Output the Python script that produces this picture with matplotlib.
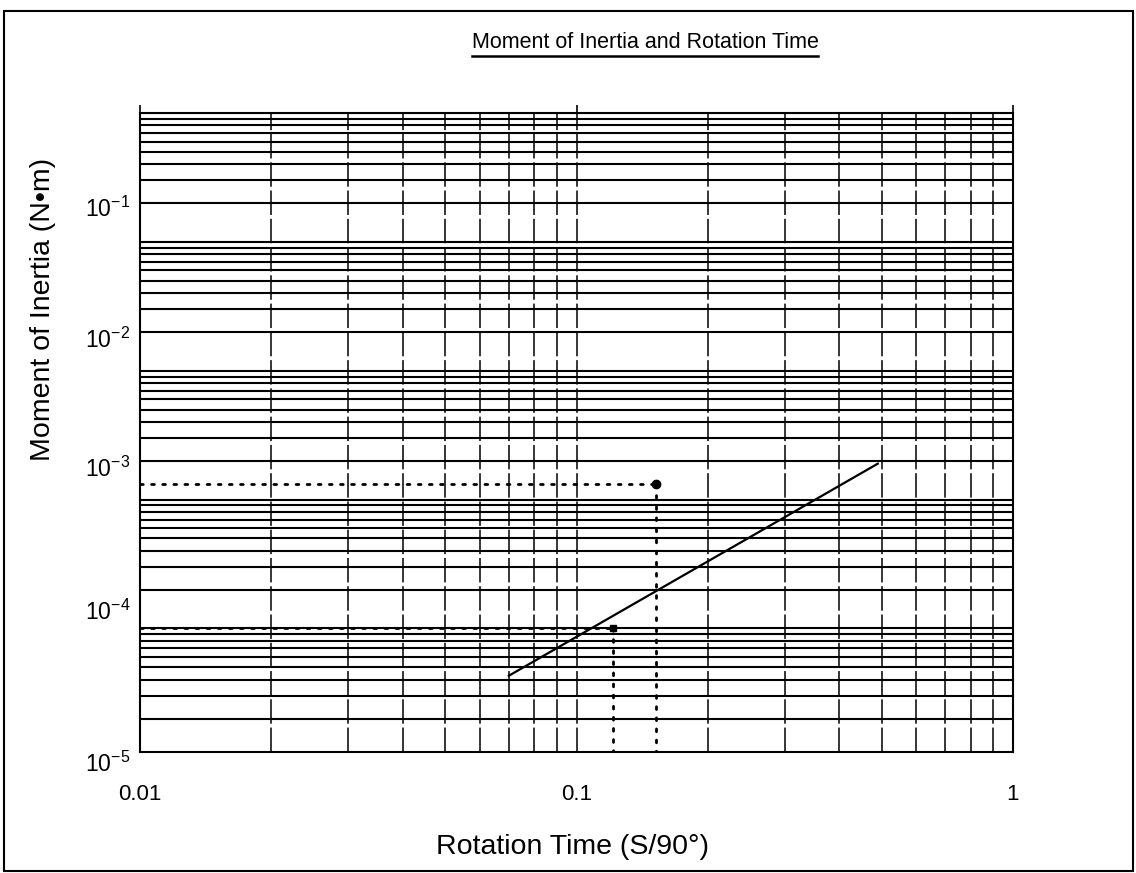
import numpy as np
import matplotlib
matplotlib.use('Agg')
import matplotlib.pyplot as plt
import matplotlib.transforms as mtransforms
from matplotlib import font_manager
from matplotlib.ticker import LogLocator, NullFormatter
from matplotlib.lines import Line2D
from matplotlib.patches import Rectangle

plt.rcParams['font.family'] = ['Liberation Sans', 'DejaVu Sans']
plt.rcParams['mathtext.fontset'] = 'custom'
plt.rcParams['mathtext.rm'] = 'Liberation Sans'
plt.rcParams['mathtext.it'] = 'Liberation Sans:italic'

# characteristic line (rotation time vs moment of inertia)
line_t = [0.07, 0.49]
line_j = [4.3e-5, 1.9e-3]

# the two worked examples drawn with dotted leaders
example_t = [0.152, 0.121]
example_j = [1.32e-3, 1.0e-4]
example_marker = ['o', 's']
example_size = [6, 4]

# axis labels (the printed y labels do not sit exactly on the grid decades)
x_ticks = [0.01, 0.1, 1]
x_ticklabels = ['0.01', '0.1', '1']
y_ticklabels = [r'$10^{-5}$', r'$10^{-4}$', r'$10^{-3}$', r'$10^{-2}$', r'$10^{-1}$']
y_label_at = [7.65e-6, 1.16e-4, 1.49e-3, 1.50e-2, 0.156]

xlim = (0.01, 1.0)
ylim = (1.1e-5, 1.0)

# narrow face for the title if there is one
installed = {f.name for f in font_manager.fontManager.ttflist}
if 'Liberation Sans Narrow' in installed:
    title_font, title_size = 'Liberation Sans Narrow', 17
else:
    title_font, title_size = 'Liberation Sans', 15.5

W, H = 1136, 873
fig = plt.figure(figsize=(W / 100, H / 100), dpi=100)
ax = fig.add_axes([140 / W, 1 - 752 / H, (1013 - 140) / W, (752 - 113) / H])
ax.set_xscale('log')
ax.set_yscale('log')
ax.set_xlim(*xlim)
ax.set_ylim(*ylim)

for a in (ax.xaxis, ax.yaxis):
    a.set_major_locator(LogLocator(base=10, numticks=50))
    a.set_minor_locator(LogLocator(base=10, subs=np.arange(2, 10), numticks=50))
    a.set_major_formatter(NullFormatter())
    a.set_minor_formatter(NullFormatter())

ax.yaxis.grid(True, which='both', ls='-', lw=1.5, color='black')
ax.xaxis.grid(True, which='both', ls=(0, (16, 2.5)), lw=1.1, color='black')
ax.set_axisbelow(True)

ax.tick_params(axis='y', which='both', length=0)
ax.tick_params(axis='x', which='minor', length=0)
ax.tick_params(axis='x', which='major', bottom=False, top=True,
               direction='out', length=6, width=1.2)
for s in ax.spines.values():
    s.set_linewidth(1.5)

# characteristic line
ax.plot(line_t, line_j, color='black', lw=1.6, zorder=4)

# worked examples with dotted leaders
for t, j, m, ms in zip(example_t, example_j, example_marker, example_size):
    ax.plot([xlim[0], t], [j, j], color='black', lw=2.0, ls=(0, (1, 3)),
            dash_capstyle='round', zorder=5, clip_on=False)
    ax.plot([t, t], [j, ylim[0]], color='black', lw=2.0, ls=(0, (1, 3)),
            dash_capstyle='round', zorder=5)
    ax.plot(t, j, marker=m, ms=ms, color='black', zorder=6)

# tick labels
xtr = mtransforms.blended_transform_factory(ax.transData, ax.transAxes)
for x, lab in zip(x_ticks, x_ticklabels):
    ax.text(x, -0.067, lab, transform=xtr, ha='center', va='center',
            fontsize=16, clip_on=False)
ytr = mtransforms.blended_transform_factory(ax.transAxes, ax.transData)
for y, lab in zip(y_label_at, y_ticklabels):
    ax.text(-0.011, y, lab, transform=ytr, ha='right', va='baseline',
            fontsize=16.5, clip_on=False)

fig.text(572 / W, 1 - 847 / H, 'Rotation Time (S/90°)', ha='center',
         va='center', fontsize=20.5)
fig.text(43 / W, 1 - 309 / H, 'Moment of Inertia (N•m)', ha='center',
         va='center', rotation=90, fontsize=20.5)

title = fig.text(645 / W, 1 - 42 / H, 'Moment of Inertia and Rotation Time',
                 ha='center', va='center', fontsize=title_size,
                 family=[title_font, 'DejaVu Sans'])

# outer frame
fig.add_artist(Rectangle((4 / W, 2 / H), (1133 - 4) / W, (862 - 2) / H,
                         transform=fig.transFigure, fill=False, lw=1.5,
                         edgecolor='black'))

# underline the title
fig.canvas.draw()
bb = title.get_window_extent()
fig.add_artist(Line2D([bb.x0, bb.x1], [bb.y0 - 3, bb.y0 - 3], lw=1.8,
                      color='black', transform=mtransforms.IdentityTransform()))

fig.savefig('out.png', dpi=100)
